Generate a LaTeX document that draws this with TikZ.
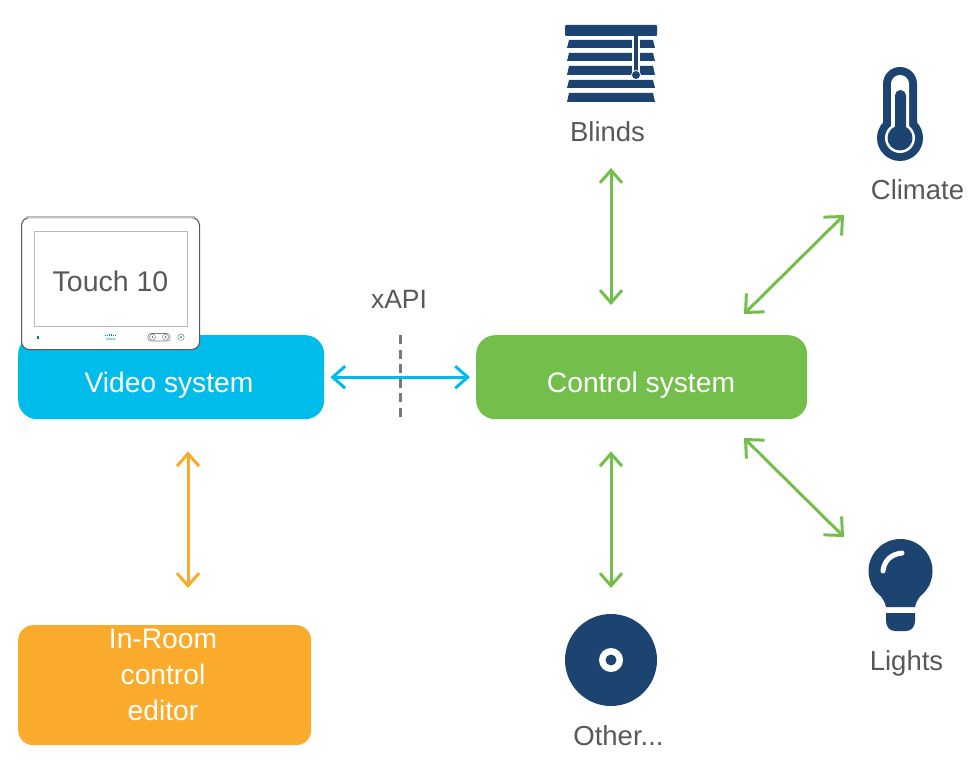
\documentclass[tikz,border=0pt]{standalone}
\usepackage{fontspec}
\setmainfont{Liberation Sans}
\usetikzlibrary{arrows.meta,calc}
\definecolor{navy}{HTML}{1D4370}
\definecolor{skyb}{HTML}{00BCEB}
\definecolor{grn}{HTML}{74BF4B}
\definecolor{org}{HTML}{FBAB2C}
\definecolor{txt}{HTML}{58585B}
\tikzset{
  x=1pt,y=-1pt,
  lbl/.style={text=txt,font=\fontsize{27.5}{30}\selectfont,inner sep=0pt,anchor=base},
  boxtxt/.style={text=white,font=\fontsize{28.2}{36}\selectfont,align=center,inner sep=0pt},
  link/.style={line width=3pt,{Straight Barb[length=12.5pt,width=22pt,line width=3pt]}-{Straight Barb[length=12.5pt,width=22pt,line width=3pt]}},
  diaglink/.style={line width=3pt,{Straight Barb[length=14pt,width=26pt,line width=3pt]}-{Straight Barb[length=14pt,width=26pt,line width=3pt]}},
  icon/.style={fill=navy,draw=none},
  hole/.style={fill=white,draw=none},
}
\newcommand{\slat}[4]{\fill[navy] (#1,#4) -- (#2,#4) -- (#2+2,#3) -- (#1-2,#3) -- cycle;}
\begin{document}
\begin{tikzpicture}
\useasboundingbox (0,0) rectangle (971,765);
% boxes
\node[fill=skyb,rounded corners=19pt,minimum width=306pt,minimum height=84pt,inner sep=0pt,anchor=north west] (video) at (18,335) {};
\node[fill=grn,rounded corners=19pt,minimum width=331pt,minimum height=84pt,inner sep=0pt,anchor=north west] (control) at (476,335) {};
\node[fill=org,rounded corners=15pt,minimum width=293pt,minimum height=120pt,inner sep=0pt,anchor=north west] (editor) at (18,625) {};
\node[boxtxt,anchor=base] (videotxt) at (169,392) {Video system};
\node[boxtxt,anchor=base] (controltxt) at (641,392) {Control system};
\node[boxtxt] (editortxt) at (163,674.5) {In-Room\\control\\editor};
% touch panel
\node[fill=white,draw=black!65,line width=1.1pt,rounded corners=8pt,minimum width=178pt,minimum height=132pt,inner sep=0pt,anchor=north west] (panel) at (21,217) {};
\draw[black!25,line width=1.1pt] (26,217) -- (195,217);
\node[draw=black!28,line width=0.8pt,fill=white,minimum width=153pt,minimum height=95pt,inner sep=0pt,anchor=north west] (screen) at (34,230.5) {};
\node[lbl,font=\fontsize{28.5}{30}\selectfont] (touch) at (110.5,291.5) {Touch 10};
\fill[black!35!skyb] (37.3,335.5) rectangle (38.5,339);
\node[text=skyb!70!black,font=\fontsize{4}{4}\selectfont,inner sep=0pt] (cisco) at (110.5,339.5) {cisco};
\foreach \xx/\hh in {105.5/1,107.5/1.5,109.5/2,111.5/2,113.5/1.5,115.5/1}
  \draw[skyb!70!black,line width=0.4pt] (\xx,336) -- (\xx,336-\hh);
\draw[black!50,line width=0.6pt,rounded corners=3pt] (148,333.5) rectangle (170,341);
\draw[black!50,line width=0.5pt,fill=white] (152.5,337.2) circle (3);
\draw[black!50,line width=0.5pt,fill=white] (165.5,337.2) circle (3);
\fill[black!60] (152.5,337.2) circle (1);
\fill[black!60] (165.5,337.2) circle (1);
\draw[black!50,line width=0.5pt] (181,337.2) circle (3.2);
\fill[skyb!70!black] (181,337.2) circle (1);
% labels
\node[lbl] (blinds) at (607.5,141) {Blinds};
\node[lbl] (climate) at (917.5,199) {Climate};
\node[lbl] (lights) at (906.5,670) {Lights};
\node[lbl] (other) at (618.5,745) {Other...};
\node[lbl,font=\fontsize{26.5}{30}\selectfont] (xapi) at (399,308) {xAPI};
% connector ends
\coordinate (ax) at (611,0);
\coordinate (bx) at (188,0);
\coordinate (climA) at (844,215);
\coordinate (climB) at (744,314);
\coordinate (ligA) at (844,537);
\coordinate (ligB) at (744,438);
\coordinate (dashT) at (400,335);
\coordinate (dashB) at (400,419);
\coordinate (otherend) at (611,588);
\coordinate (blindsend) at (611,168);
% connectors
\draw[gray!95!black,line width=3pt,dash pattern=on 9pt off 5.5pt] (dashT) -- (dashB);
\draw[link,skyb,shorten <=6pt,shorten >=6pt] (video.east) -- (control.west);
\draw[link,grn,shorten >=30pt] (blindsend) -- (control.north -| ax);
\draw[link,grn,shorten <=32pt] (control.south -| ax) -- (otherend);
\draw[diaglink,grn] (climA) -- (climB);
\draw[diaglink,grn] (ligA) -- (ligB);
\draw[link,org,shorten <=32pt,shorten >=37pt] (video.south -| bx) -- (editor.north -| bx);
% blinds icon
\fill[navy,rounded corners=1pt] (565,25) rectangle (657,36);
\slat{569}{653}{48}{40}
\slat{569}{653}{61}{53}
\slat{569}{653}{75}{66}
\slat{569}{653}{88}{80}
\slat{569}{653}{102}{93}
\fill[white] (632,38) rectangle (640,79);
\fill[navy] (634,34) rectangle (638,74);
\fill[white] (636,75) circle (5);
\fill[navy] (636,75) circle (4);
% thermometer icon
\fill[icon] (900,138) circle (23);
\fill[icon,rounded corners=16.9pt] (883,67) rectangle (917,150);
\fill[hole,rounded corners=8.9pt] (891,75) rectangle (909,140);
\fill[hole] (900,138) circle (15);
\fill[icon,rounded corners=5.4pt] (895,90) rectangle (906,140);
\fill[icon] (900,138) circle (12.5);
% bulb icon
\fill[icon] (900.5,571) circle (32);
\fill[icon] (886,607) .. controls (884,597) and (876,592) .. (871,584) -- (930,584) .. controls (925,592) and (917,597) .. (915,607) -- cycle;
\draw[white,line width=5pt,line cap=round] (883,571) .. controls (884,561) and (891,554) .. (902,553);
\fill[icon] (886,613) -- (915,613) -- (915,621) .. controls (915,627) and (911,631) .. (906,631) -- (895,631) .. controls (890,631) and (886,627) .. (886,621) -- cycle;
% disc icon
\fill[icon] (611,660) circle (46);
\fill[hole] (611,660) circle (12);
\fill[icon] (611,660) circle (5.5);
\end{tikzpicture}
\end{document}
